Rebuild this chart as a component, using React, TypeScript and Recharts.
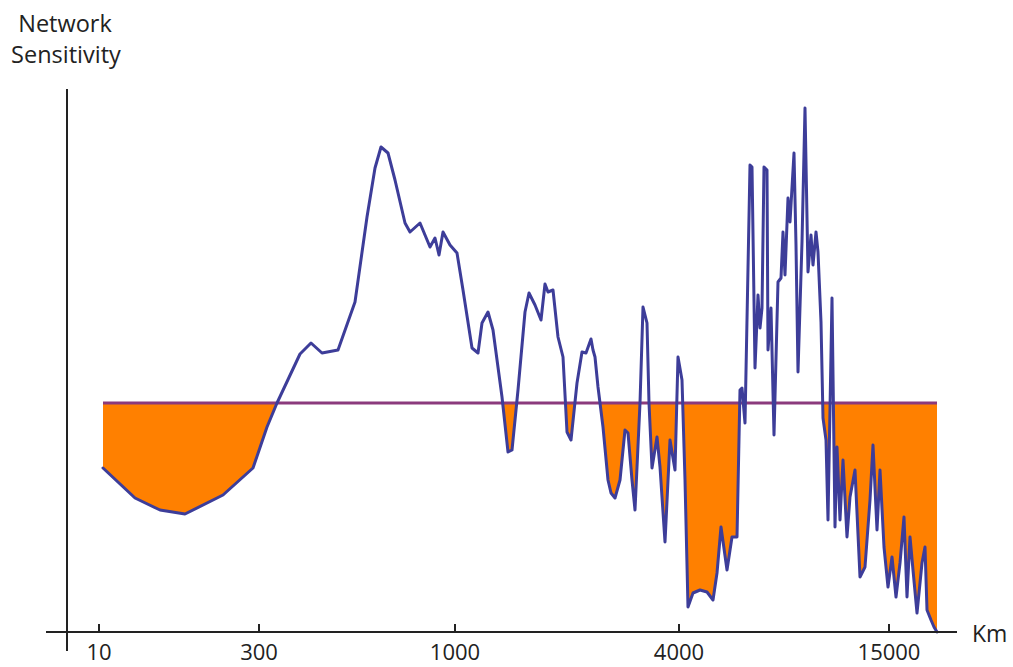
import React from 'react';
import { ComposedChart, Area, Line, XAxis, YAxis, ReferenceLine } from 'recharts';

// distance position along the (non-uniform) km axis, arbitrary units
const xPos = [
  36, 68, 93, 118, 156, 186, 200, 210, 233, 244, 255, 271, 288, 300, 308, 314, 321,
  328, 338, 343, 353, 363, 368, 372, 376, 383, 390, 396, 405, 411, 415, 421, 426,
  435, 441, 445, 451, 458, 462, 468, 474, 478, 481, 486, 491, 496, 500, 504, 510,
  515, 519, 524, 526, 528, 531, 536, 541, 544, 548, 553, 558, 561, 565, 568, 573,
  576, 580, 582, 585, 590, 593, 598, 603, 608, 611, 615, 618, 621, 626, 633, 640,
  646, 650, 654, 660, 665, 670, 673, 675, 678, 683, 685, 688, 691, 693, 695, 697,
  700, 701, 704, 707, 711, 714, 716, 718, 721, 723, 727, 729, 731, 735, 738, 741,
  744, 746, 749, 751, 754, 756, 759, 761, 765, 768, 770, 773, 776, 780, 783, 788,
  793, 798, 803, 806, 810, 813, 817, 821, 825, 829, 833, 837, 840, 843, 846, 850,
  855, 858, 860, 864, 867, 870,
];

// network sensitivity, arbitrary units
const sensitivity = [
  164, 134, 122, 118, 137, 164, 205, 229, 278, 289, 279, 282, 330, 415, 464, 485, 479,
  452, 409, 400, 409, 385, 394, 377, 400, 387, 379, 342, 284, 279, 309, 320, 302,
  235, 180, 182, 242, 320, 339, 327, 312, 348, 340, 342, 295, 275, 200, 192, 249,
  280, 279, 293, 282, 275, 245, 205, 152, 139, 134, 152, 202, 199, 152, 122, 229,
  325, 309, 229, 164, 195, 165, 90, 192, 162, 275, 252, 152, 25, 39, 42, 40,
  32, 59, 105, 62, 95, 95, 242, 244, 209, 467, 465, 264, 337, 304, 324, 465,
  462, 282, 324, 197, 350, 354, 400, 357, 434, 410, 479, 387, 260, 390, 524, 360,
  397, 367, 400, 380, 310, 214, 192, 112, 334, 105, 185, 112, 172, 95, 135, 162,
  55, 65, 132, 187, 102, 162, 85, 45, 75, 35, 69, 115, 35, 95, 62, 19,
  69, 85, 22, 12, 5, 0,
];

const threshold = 229;

const tickPositions = [32, 192, 388, 612, 822];
const tickLabels = ['10', '300', '1000', '4000', '15000'];

const xDomain = [-21, 890];
const yDomain = [0, 543];

const data = xPos.map((x, i) => ({ x, s: sensitivity[i] }));

const FONT = '"Open Sans", sans-serif';

export default function App() {
  const maxV = Math.max(...sensitivity, threshold);
  const minV = Math.min(...sensitivity, threshold);
  const off = (maxV - threshold) / (maxV - minV);
  const labelFor = (v: number) => {
    const i = tickPositions.indexOf(v);
    return i >= 0 ? tickLabels[i] : '';
  };
  return (
    <div style={{ position: 'absolute', left: 0, top: 0, width: 1013, height: 667, background: '#fff' }}>
      <ComposedChart
        width={1013}
        height={667}
        data={data}
        margin={{ top: 89, left: 46, right: 56, bottom: 0 }}
      >
        <defs>
          <linearGradient id="belowFill" x1="0" y1="0" x2="0" y2="1">
            <stop offset={0} stopColor="#FF8000" stopOpacity={0} />
            <stop offset={off} stopColor="#FF8000" stopOpacity={0} />
            <stop offset={off} stopColor="#FF8000" stopOpacity={1} />
            <stop offset={1} stopColor="#FF8000" stopOpacity={1} />
          </linearGradient>
        </defs>
        <XAxis
          dataKey="x"
          type="number"
          domain={xDomain}
          ticks={tickPositions}
          tickFormatter={labelFor}
          height={35}
          axisLine={{ stroke: '#222', strokeWidth: 2 }}
          tickLine={{ stroke: '#222', strokeWidth: 2 }}
          tickSize={-8}
          tickMargin={20}
          tick={{ fill: '#222', fontSize: 22, fontFamily: FONT }}
          interval={0}
        />
        <YAxis type="number" domain={yDomain} hide />
        <Area
          dataKey="s"
          type="linear"
          baseValue={threshold}
          stroke="none"
          fill="url(#belowFill)"
          fillOpacity={1}
          isAnimationActive={false}
          activeDot={false}
        />
        <ReferenceLine
          segment={[{ x: xPos[0], y: threshold }, { x: xPos[xPos.length - 1], y: threshold }]}
          stroke="#8B3A7D"
          strokeWidth={3}
          ifOverflow="visible"
        />
        <ReferenceLine
          segment={[{ x: 0, y: -19 }, { x: 0, y: yDomain[1] }]}
          stroke="#222"
          strokeWidth={2}
          ifOverflow="visible"
        />
        <Line
          dataKey="s"
          type="linear"
          stroke="#3D3D99"
          strokeWidth={3}
          strokeLinejoin="round"
          strokeLinecap="round"
          dot={false}
          activeDot={false}
          isAnimationActive={false}
        />
      </ComposedChart>
      <svg
        width={1013}
        height={667}
        style={{ position: 'absolute', left: 0, top: 0, pointerEvents: 'none' }}
      >
        <text x={65} y={32} textAnchor="middle" fontSize={23.5} fontFamily={FONT} fill="#222">Network</text>
        <text x={66} y={63} textAnchor="middle" fontSize={23.5} fontFamily={FONT} fill="#222">Sensitivity</text>
        <text x={972} y={642} textAnchor="start" fontSize={23} fontFamily={FONT} fill="#222">Km</text>
      </svg>
    </div>
  );
}
